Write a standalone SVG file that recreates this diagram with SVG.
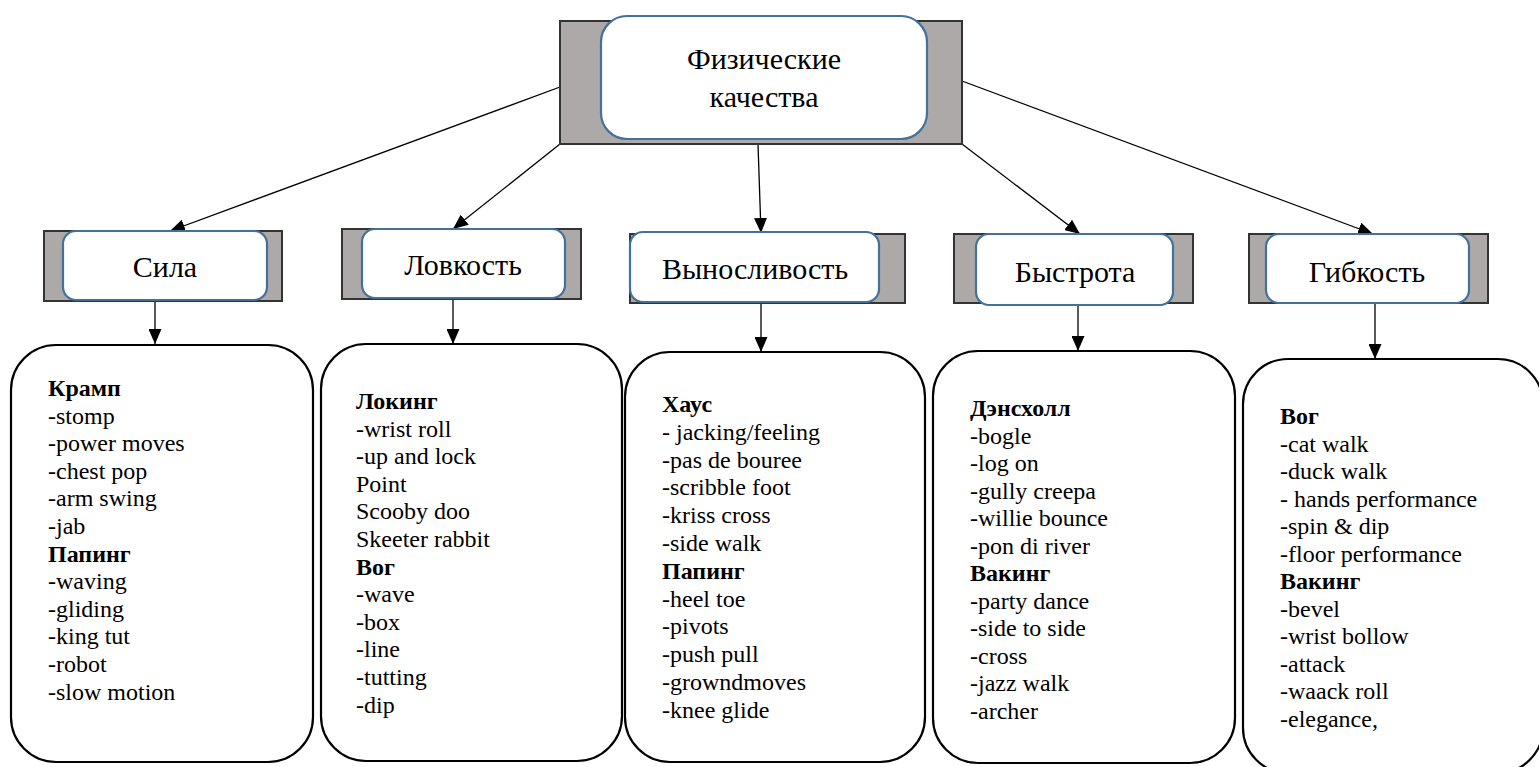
<svg xmlns="http://www.w3.org/2000/svg" width="1539" height="767" viewBox="0 0 1539 767">
<style>
.bg{fill:#ffffff}
.shadow{fill:#ADA9A8;stroke:#333333;stroke-width:2}
.card{fill:#ffffff;stroke:#41719C;stroke-width:2.2}
.list{fill:#ffffff;stroke:#000000;stroke-width:2.2}
.conn{stroke:#000000;stroke-width:1.3;fill:none;marker-end:url(#arr)}
.title{font-size:30px;fill:#000000;text-anchor:middle}
.item{font-size:24px;fill:#000000}
.h{font-weight:bold}
</style>
<defs>
<marker id="arr" markerUnits="userSpaceOnUse" markerWidth="15" markerHeight="13" refX="15" refY="6.5" orient="auto">
<path d="M0,0 L15,6.5 L0,13 z" fill="#000000"/>
</marker>
</defs>
<rect class="bg" x="0" y="0" width="1539" height="767"/>

<g id="connectors">
<path class="conn" d="M560,87 L170,231"/>
<path class="conn" d="M560,144 L453,229"/>
<path class="conn" d="M758,144 L761,233"/>
<path class="conn" d="M962,144 L1080,234"/>
<path class="conn" d="M962,81 L1373,234"/>
<path class="conn" d="M155,301 L155,344"/>
<path class="conn" d="M453,299 L453,344"/>
<path class="conn" d="M761,303 L761,352"/>
<path class="conn" d="M1078,305 L1078,351"/>
<path class="conn" d="M1375,303 L1375,359"/>
</g>

<g font-family="Liberation Serif, Tinos, Times New Roman, DejaVu Serif, serif">
<g id="node-root">
<rect class="shadow" x="560" y="21" width="402" height="123"/>
<rect class="card" x="601" y="16" width="326" height="123" rx="26"/>
<text class="title" x="764" y="69">Физические</text>
<text class="title" x="764" y="107">качества</text>
</g>

<g id="node-sila">
<rect class="shadow" x="44" y="231" width="238" height="70"/>
<rect class="card" x="63" y="231" width="204" height="69" rx="13"/>
<text class="title" x="165" y="277">Сила</text>
</g>

<g id="node-lovkost">
<rect class="shadow" x="342" y="229" width="239" height="70"/>
<rect class="card" x="362" y="229" width="203" height="69" rx="13"/>
<text class="title" x="463" y="275">Ловкость</text>
</g>

<g id="node-vynoslivost">
<rect class="shadow" x="630" y="234" width="275" height="69"/>
<rect class="card" x="630" y="232" width="249" height="70" rx="13"/>
<text class="title" x="755" y="279">Выносливость</text>
</g>

<g id="node-bystrota">
<rect class="shadow" x="954" y="234" width="239" height="69"/>
<rect class="card" x="976" y="234" width="197" height="71" rx="13"/>
<text class="title" x="1075" y="282">Быстрота</text>
</g>

<g id="node-gibkost">
<rect class="shadow" x="1249" y="234" width="239" height="69"/>
<rect class="card" x="1266" y="234" width="203" height="69" rx="13"/>
<text class="title" x="1367" y="282">Гибкость</text>
</g>

<g id="list-sila">
<rect class="list" x="11" y="345" width="302" height="417" rx="45"/>
<text class="item" x="48" y="396">
<tspan class="h" x="48" dy="0">Крамп</tspan>
<tspan x="48" dy="27.6">-stomp</tspan>
<tspan x="48" dy="27.6">-power moves</tspan>
<tspan x="48" dy="27.6">-chest pop</tspan>
<tspan x="48" dy="27.6">-arm swing</tspan>
<tspan x="48" dy="27.6">-jab</tspan>
<tspan class="h" x="48" dy="27.6">Папинг</tspan>
<tspan x="48" dy="27.6">-waving</tspan>
<tspan x="48" dy="27.6">-gliding</tspan>
<tspan x="48" dy="27.6">-king tut</tspan>
<tspan x="48" dy="27.6">-robot</tspan>
<tspan x="48" dy="27.6">-slow motion</tspan>
</text>
</g>

<g id="list-lovkost">
<rect class="list" x="321" y="344" width="301" height="417" rx="45"/>
<text class="item" x="356" y="409">
<tspan class="h" x="356" dy="0">Локинг</tspan>
<tspan x="356" dy="27.6">-wrist roll</tspan>
<tspan x="356" dy="27.6">-up and lock</tspan>
<tspan x="356" dy="27.6">Point</tspan>
<tspan x="356" dy="27.6">Scooby doo</tspan>
<tspan x="356" dy="27.6">Skeeter rabbit</tspan>
<tspan class="h" x="356" dy="27.6">Вог</tspan>
<tspan x="356" dy="27.6">-wave</tspan>
<tspan x="356" dy="27.6">-box</tspan>
<tspan x="356" dy="27.6">-line</tspan>
<tspan x="356" dy="27.6">-tutting</tspan>
<tspan x="356" dy="27.6">-dip</tspan>
</text>
</g>

<g id="list-vynoslivost">
<rect class="list" x="625" y="352" width="300" height="410" rx="45"/>
<text class="item" x="662" y="412">
<tspan class="h" x="662" dy="0">Хаус</tspan>
<tspan x="662" dy="27.8">- jacking/feeling</tspan>
<tspan x="662" dy="27.8">-pas de bouree</tspan>
<tspan x="662" dy="27.8">-scribble foot</tspan>
<tspan x="662" dy="27.8">-kriss cross</tspan>
<tspan x="662" dy="27.8">-side walk</tspan>
<tspan class="h" x="662" dy="27.8">Папинг</tspan>
<tspan x="662" dy="27.8">-heel toe</tspan>
<tspan x="662" dy="27.8">-pivots</tspan>
<tspan x="662" dy="27.8">-push pull</tspan>
<tspan x="662" dy="27.8">-growndmoves</tspan>
<tspan x="662" dy="27.8">-knee glide</tspan>
</text>
</g>

<g id="list-bystrota">
<rect class="list" x="933" y="351" width="302" height="412" rx="45"/>
<text class="item" x="970" y="416">
<tspan class="h" x="970" dy="0">Дэнсхолл</tspan>
<tspan x="970" dy="27.5">-bogle</tspan>
<tspan x="970" dy="27.5">-log on</tspan>
<tspan x="970" dy="27.5">-gully creepa</tspan>
<tspan x="970" dy="27.5">-willie bounce</tspan>
<tspan x="970" dy="27.5">-pon di river</tspan>
<tspan class="h" x="970" dy="27.5">Вакинг</tspan>
<tspan x="970" dy="27.5">-party dance</tspan>
<tspan x="970" dy="27.5">-side to side</tspan>
<tspan x="970" dy="27.5">-cross</tspan>
<tspan x="970" dy="27.5">-jazz walk</tspan>
<tspan x="970" dy="27.5">-archer</tspan>
</text>
</g>

<g id="list-gibkost">
<rect class="list" x="1243" y="359" width="300" height="414" rx="45"/>
<text class="item" x="1280" y="424">
<tspan class="h" x="1280" dy="0">Вог</tspan>
<tspan x="1280" dy="27.5">-cat walk</tspan>
<tspan x="1280" dy="27.5">-duck walk</tspan>
<tspan x="1280" dy="27.5">- hands performance</tspan>
<tspan x="1280" dy="27.5">-spin &amp; dip</tspan>
<tspan x="1280" dy="27.5">-floor performance</tspan>
<tspan class="h" x="1280" dy="27.5">Вакинг</tspan>
<tspan x="1280" dy="27.5">-bevel</tspan>
<tspan x="1280" dy="27.5">-wrist bollow</tspan>
<tspan x="1280" dy="27.5">-attack</tspan>
<tspan x="1280" dy="27.5">-waack roll</tspan>
<tspan x="1280" dy="27.5">-elegance,</tspan>
</text>
</g>
</g>
</svg>
